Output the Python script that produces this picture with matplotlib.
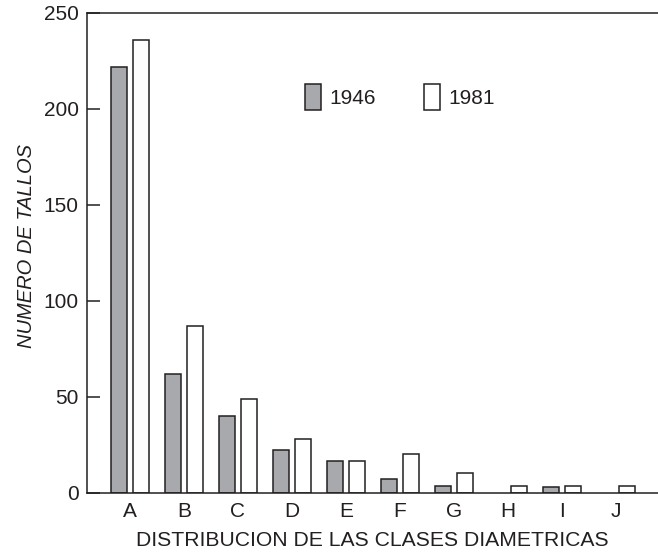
import matplotlib.pyplot as plt
import numpy as np

plt.rcParams['font.family'] = ['Liberation Sans', 'DejaVu Sans']

ink = '#231f20'
gray_fill = '#a7a9ac'

# stems per diameter class
classes = ['A', 'B', 'C', 'D', 'E', 'F', 'G', 'H', 'I', 'J']
stems_1946 = [222, 62, 40, 22, 16.5, 7, 3.5, None, 3, None]
stems_1981 = [236, 87, 49, 28, 16.5, 20, 10, 3.5, 3.5, 3.5]

x = np.arange(len(classes))
width = 0.30
offset = 0.208

fig = plt.figure(figsize=(6.58, 5.52), dpi=100)
ax = fig.add_axes([87 / 658, 59.5 / 552, 571 / 658, 479.5 / 552])

# classes without a count are left empty
m46 = [v is not None for v in stems_1946]
ax.bar(x[m46] - offset, [v for v in stems_1946 if v is not None], width,
       color=gray_fill, edgecolor=ink, linewidth=1.1, label='1946')
ax.bar(x + offset, stems_1981, width,
       color='white', edgecolor=ink, linewidth=1.1, label='1981')

ax.set_xlim(-0.796, 9.778)
ax.set_ylim(0, 250)
ax.set_yticks([0, 50, 100, 150, 200, 250])
ax.set_xticks(x)
ax.set_xticklabels(classes)

ax.spines['right'].set_visible(False)
for s in ['left', 'top', 'bottom']:
    ax.spines[s].set_color(ink)
    ax.spines[s].set_linewidth(1.1)

ax.tick_params(axis='y', direction='in', length=9, width=1.1, color=ink,
               labelsize=15, labelcolor=ink, pad=6)
ax.tick_params(axis='x', length=0, labelsize=15, labelcolor=ink, pad=7)

ax.set_xlabel('DISTRIBUCION DE LAS CLASES DIAMETRICAS', fontsize=15.2,
              color=ink, labelpad=7)
ax.set_ylabel('NUMERO DE TALLOS', fontsize=14.5, color=ink,
              fontstyle='italic')
ax.yaxis.set_label_coords(-0.09, 0.515)

ax.legend(loc='center left', bbox_to_anchor=(305 / 658, 1 - 97 / 552),
          bbox_transform=fig.transFigure, ncol=2, frameon=False,
          fontsize=15, handlelength=0.77, handleheight=1.6,
          handletextpad=0.4, columnspacing=2.3, borderpad=0,
          borderaxespad=0, labelcolor=ink)

fig.savefig('out.png', dpi=100)
